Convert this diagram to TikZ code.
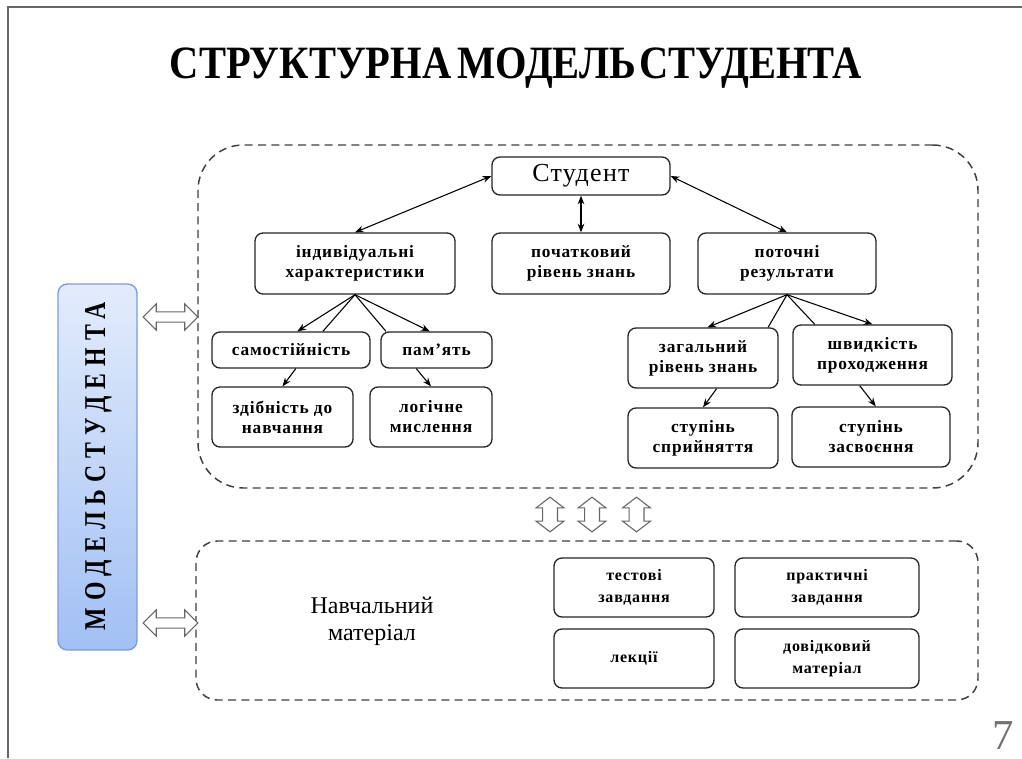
\documentclass[tikz,border=0pt]{standalone}
\usepackage{fontspec}
\usepackage{graphicx}
\setmainfont{Liberation Serif}
\newfontfamily\spacedserif[LetterSpace=5]{Liberation Serif}
\newfontfamily\capsfont[LetterSpace=30]{Liberation Serif}
\usetikzlibrary{arrows.meta,shapes.arrows,calc}

\definecolor{framegray}{HTML}{666666}
\definecolor{modeltop}{HTML}{E2ECFC}
\definecolor{modelbottom}{HTML}{A2C0F4}
\definecolor{modeledge}{HTML}{7C9DD8}

\tikzset{
  sz/.style 2 args={minimum width=0.75pt*#1, minimum height=0.75pt*#2},
  box/.style={draw=black!85, line width=1pt, rounded corners=6pt, fill=white,
    align=center, inner sep=2pt,
    font={\spacedserif\bfseries\fontsize{13}{15}\selectfont}},
  smallbox/.style={box, font={\spacedserif\bfseries\fontsize{12}{16.5}\selectfont}},
  container/.style={draw=black!75, line width=1.1pt, dash pattern=on 6pt off 4pt},
  arr/.style={-{Stealth[length=6.5pt,width=5pt]}, line width=0.8pt},
  biarr/.style={{Stealth[length=6.5pt,width=5pt]}-{Stealth[length=6.5pt,width=5pt]}, line width=0.8pt},
  plain/.style={line width=0.8pt},
  hollow/.style={double arrow, draw=black!60, fill=white, line width=0.8pt},
  hollowh/.style={hollow, inner xsep=0pt, inner ysep=3.4pt, minimum height=41pt,
    double arrow head extend=6pt},
  hollowv/.style={hollow, shape border rotate=90, inner xsep=5.2pt, inner ysep=0pt,
    minimum height=26pt, double arrow head extend=4.8pt, double arrow tip angle=105},
}

\begin{document}
\begin{tikzpicture}[x=0.75pt,y=-0.75pt]
\useasboundingbox (0,0) rectangle (1022,758);
\fill[white] (0,0) rectangle (1022,758);

% slide frame
\draw[framegray, line width=1.5pt] (8,758) -- (8,7) -- (1022,7);

% title
\node[anchor=base, inner sep=0pt] (title) at (516,78)
  {\resizebox{519pt}{23pt}{\bfseries СТРУКТУРНА\hspace{0.15em}МОДЕЛЬ\hspace{0.08em}СТУДЕНТА}};

% containers
\node[container, rounded corners=34pt, sz={780}{343}] (upper) at (588,316.5) {};
\node[container, rounded corners=16pt, sz={782}{159}] (lower) at (587,620.5) {};

% vertical label box
\node[draw=modeledge, line width=1pt, rounded corners=7pt,
      top color=modeltop, bottom color=modelbottom, sz={79}{366}] (model) at (97.5,467) {};
\node[rotate=90, anchor=base, inner sep=0pt] (modeltext) at (105,466)
  {\resizebox{246pt}{15pt}{\capsfont\bfseries МОДЕЛЬ\hspace{0.3em}СТУДЕНТА}};

% hollow two-way arrows
\node[hollowh] (h1) at (170.5,317) {};
\node[hollowh] (h2) at (170.5,623) {};
\node[hollowv] (v1) at (550,514.5) {};
\node[hollowv] (v2) at (592,514.5) {};
\node[hollowv] (v3) at (636.5,514.5) {};

% upper structure
\node[box, sz={178}{38}, font={\spacedserif\fontsize{19.5}{21}\selectfont}] (stud) at (581,176) {Студент};
\node[box, sz={200}{61}] (ind) at (355,263.5) {індивідуальні\\характеристики};
\node[box, sz={178}{61}] (poch) at (581,263.5) {початковий\\рівень знань};
\node[box, sz={178}{61}] (pot) at (787,263.5) {поточні\\результати};

\node[box, sz={158}{36}] (sam) at (291,350) {самостійність};
\node[box, sz={111}{36}] (pam) at (436.5,350) {пам’ять};
\node[box, sz={141}{60}] (zdib) at (282.5,417) {здібність до\\навчання};
\node[box, sz={122}{60}] (logm) at (431,417) {логічне\\мислення};

\node[box, sz={150}{60}] (zag) at (703,358) {загальний\\рівень знань};
\node[box, sz={159}{60}] (shv) at (872.5,355) {швидкість\\проходження};
\node[box, sz={150}{60}] (spr) at (703,438) {ступінь\\сприйняття};
\node[box, sz={158}{60}] (zas) at (871,437) {ступінь\\засвоєння};

% connectors of the upper structure
\draw[biarr] (stud.west) -- (ind.north);
\draw[biarr] (stud.south) -- (poch.north);
\draw[biarr] (stud.east) -- (pot.north);

\draw[arr] (ind.south) -- ($(sam.north west)!0.54!(sam.north east)$);
\draw[plain] (ind.south) -- ($(sam.north west)!0.70!(sam.north east)$);
\draw[plain] (ind.south) -- ($(pam.north west)!0.05!(pam.north east)$);
\draw[arr] (ind.south) -- ($(pam.north west)!0.44!(pam.north east)$);

\draw[arr] ($(sam.south west)!0.53!(sam.south east)$) -- (zdib.north);
\draw[arr] ($(pam.south west)!0.32!(pam.south east)$) -- (logm.north);

\draw[arr] (pot.south) -- ($(zag.north west)!0.53!(zag.north east)$);
\draw[plain] (pot.south) -- ($(zag.north west)!0.93!(zag.north east)$);
\draw[plain] (pot.south) -- ($(shv.north west)!0.14!(shv.north east)$);
\draw[arr] (pot.south) -- ($(shv.north west)!0.50!(shv.north east)$);

\draw[arr] ($(zag.south west)!0.59!(zag.south east)$) -- (spr.north);
\draw[arr] ($(shv.south west)!0.42!(shv.south east)$) -- ($(zas.north west)!0.53!(zas.north east)$);

% learning material
\node[align=center, inner sep=0pt, font={\fontsize{18}{20}\selectfont}] (mat) at (372,621) {Навчальний\\матеріал};
\node[smallbox, sz={160}{59}] (test) at (634,587.5) {тестові\\завдання};
\node[smallbox, sz={184}{59}] (prak) at (827,587.5) {практичні\\завдання};
\node[smallbox, sz={160}{59}] (lek) at (634,658.5) {лекції};
\node[smallbox, sz={184}{59}] (dov) at (827,658.5) {довідковий\\матеріал};

% slide number
\node[anchor=base, inner sep=0pt, text=black!55, font={\fontsize{32}{32}\selectfont}] (num) at (1003,749) {7};
\end{tikzpicture}
\end{document}
